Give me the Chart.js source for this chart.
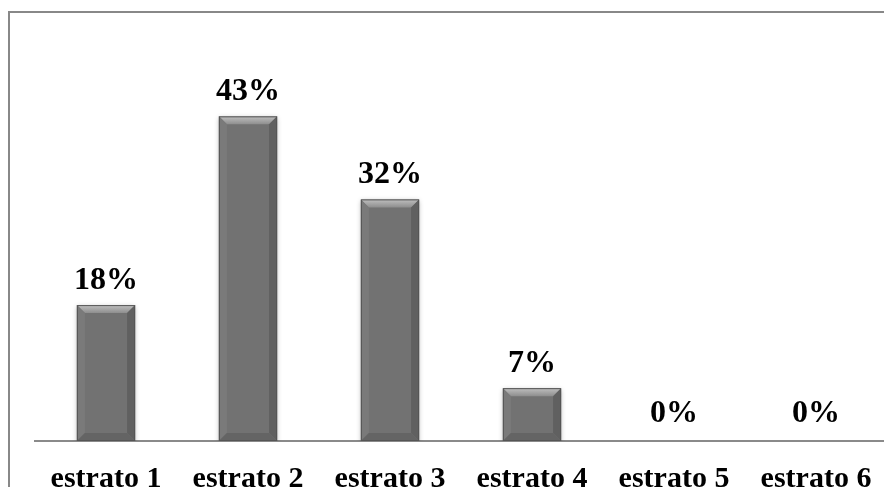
<!DOCTYPE html>
<html>
<head>
<meta charset="utf-8">
<script src="https://cdn.jsdelivr.net/npm/chart.js@4/dist/chart.umd.min.js"></script>
<style>
  html, body { margin: 0; padding: 0; background: #fff; overflow: hidden; width: 884px; height: 487px; }
  #frame { position: absolute; left: 8px; top: 11px; width: 900px; height: 500px;
           border-left: 2px solid #888; border-top: 2px solid #888; }
  #wrap { position: absolute; left: 0; top: 0; width: 887px; height: 500px; }
</style>
</head>
<body>
<div id="frame"></div>
<div id="wrap"><canvas id="chart"></canvas></div>
<script>
// Share of households by socio-economic stratum (%)
const categories = ['estrato 1', 'estrato 2', 'estrato 3', 'estrato 4', 'estrato 5', 'estrato 6'];
const percentages = [18, 43, 32, 7, 0, 0];
const axisMax = 50;

const serif = '"Liberation Serif", "Times New Roman", serif';

// Bevelled column look: soft drop shadow, lighter top edge, darker sides
const bevelPlugin = {
  id: 'bevel',
  beforeDatasetsDraw(chart) {
    const ctx = chart.ctx;
    ctx.save();
    ctx.shadowColor = 'rgba(0,0,0,0.35)';
    ctx.shadowBlur = 5;
    ctx.shadowOffsetY = 2;
  },
  afterDatasetsDraw(chart) {
    const ctx = chart.ctx;
    ctx.restore();
    const meta = chart.getDatasetMeta(0);
    meta.data.forEach(bar => {
      const p = bar.getProps(['x', 'y', 'base', 'width'], true);
      const h = p.base - p.y;
      if (h < 2) return;
      const l = p.x - p.width / 2, r = p.x + p.width / 2, t = p.y, b = p.base;
      const bv = Math.min(8, h / 2);
      ctx.save();
      // top bevel
      let g = ctx.createLinearGradient(0, t, 0, t + bv);
      g.addColorStop(0, '#c0c0c0');
      g.addColorStop(1, '#8e8e8e');
      ctx.fillStyle = g;
      ctx.beginPath();
      ctx.moveTo(l, t); ctx.lineTo(r, t); ctx.lineTo(r - bv, t + bv); ctx.lineTo(l + bv, t + bv); ctx.closePath();
      ctx.fill();
      // left bevel
      ctx.fillStyle = '#7a7a7a';
      ctx.beginPath();
      ctx.moveTo(l, t); ctx.lineTo(l + bv, t + bv); ctx.lineTo(l + bv, b - bv); ctx.lineTo(l, b); ctx.closePath();
      ctx.fill();
      // right bevel
      ctx.fillStyle = '#606060';
      ctx.beginPath();
      ctx.moveTo(r, t); ctx.lineTo(r - bv, t + bv); ctx.lineTo(r - bv, b - bv); ctx.lineTo(r, b); ctx.closePath();
      ctx.fill();
      // bottom bevel
      ctx.fillStyle = '#646464';
      ctx.beginPath();
      ctx.moveTo(l, b); ctx.lineTo(l + bv, b - bv); ctx.lineTo(r - bv, b - bv); ctx.lineTo(r, b); ctx.closePath();
      ctx.fill();
      // outline
      ctx.strokeStyle = '#555555';
      ctx.lineWidth = 1;
      ctx.strokeRect(l + 0.5, t + 0.5, p.width - 1, h - 1);
      ctx.restore();
    });
  }
};

// Percentage value above every column
const valueLabels = {
  id: 'valueLabels',
  afterDatasetsDraw(chart) {
    const ctx = chart.ctx;
    const meta = chart.getDatasetMeta(0);
    ctx.save();
    ctx.font = 'bold 32px ' + serif;
    ctx.fillStyle = '#000';
    ctx.textAlign = 'center';
    ctx.textBaseline = 'alphabetic';
    meta.data.forEach((bar, i) => {
      const v = chart.data.datasets[0].data[i];
      const gap = v === 0 ? 19 : 16;
      ctx.fillText(v + '%', bar.x, bar.y - gap);
    });
    ctx.restore();
  }
};

new Chart(document.getElementById('chart'), {
  type: 'bar',
  data: {
    labels: categories,
    datasets: [{
      data: percentages,
      backgroundColor: '#727272',
      borderWidth: 0,
      barPercentage: 0.41,
      categoryPercentage: 1.0
    }]
  },
  options: {
    responsive: true,
    maintainAspectRatio: false,
    animation: false,
    layout: { padding: { left: 35, top: 63.5, right: 0, bottom: 0 } },
    plugins: { legend: { display: false }, tooltip: { enabled: false } },
    scales: {
      x: {
        offset: true,
        grid: { display: false, drawTicks: false },
        border: { display: true, color: '#8a8a8a', width: 2 },
        ticks: {
          color: '#000',
          font: { family: serif, size: 30, weight: 'bold' },
          padding: 20,
          maxRotation: 0,
          autoSkip: false
        },
        afterFit(scale) {
          scale.height = 59;
          scale.paddingLeft = 0;
          scale.paddingRight = 0;
        }
      },
      y: {
        display: false,
        min: 0,
        max: axisMax
      }
    }
  },
  plugins: [bevelPlugin, valueLabels]
});
</script>
</body>
</html>
